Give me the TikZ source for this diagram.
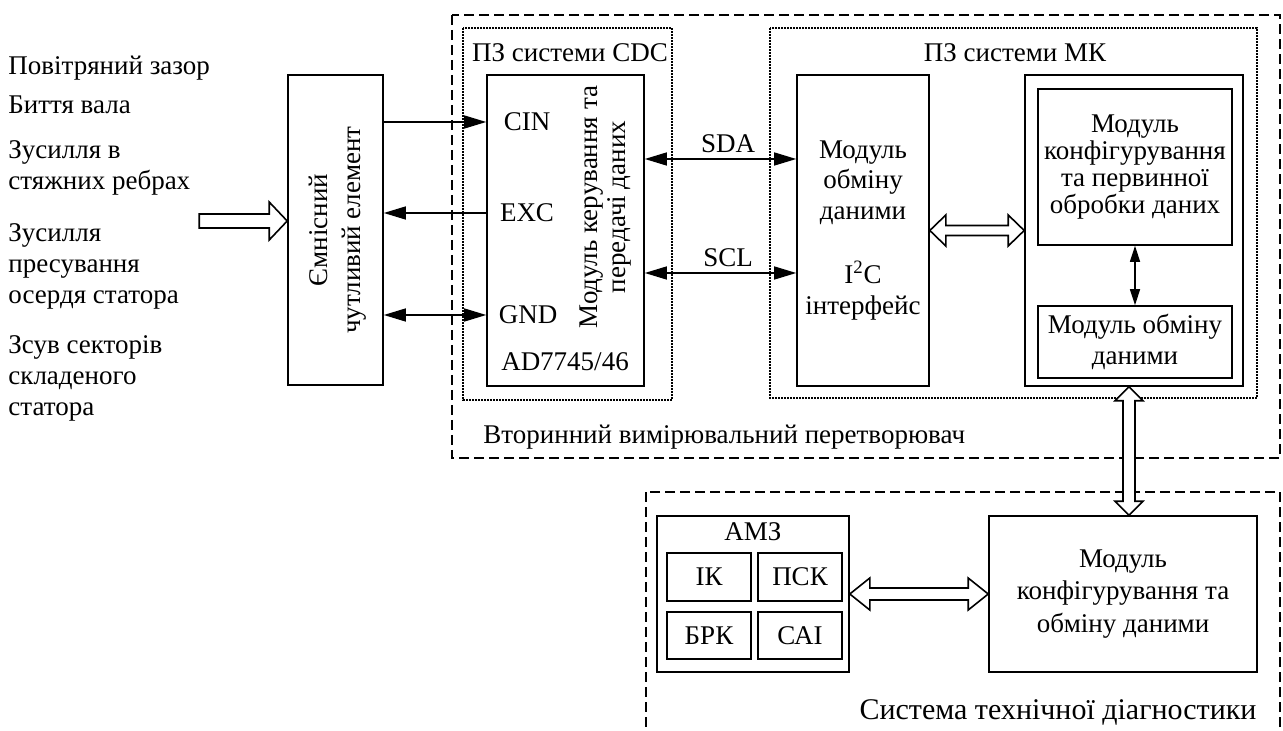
\documentclass[tikz,border=0pt]{standalone}
\usepackage{fontspec}
\setmainfont{Liberation Serif}
\usetikzlibrary{arrows.meta,calc}

\begin{document}
\begin{tikzpicture}[x=0.5pt,y=-0.5pt,
    >={Triangle[length=11pt,width=6.5pt]},
    blk/.style={draw, line width=0.8pt, inner sep=0pt},
    txt/.style={font=\fontsize{13.5}{15.5}\selectfont, inner sep=0pt, align=center},
    sig/.style={line width=0.7pt},
    hollow/.style={line width=0.8pt, fill=white},
    zone/.style={line width=1pt, dash pattern=on 5pt off 2.5pt},
    part/.style={line width=1.1pt, dash pattern=on 0.8pt off 0.7pt}]
  \useasboundingbox (0,0) rectangle (1283,731);

  % Draw the zones
  \draw[zone] (452,15) rectangle (1280,458);
  \begin{scope}
    \clip (0,0) rectangle (1283,731);
    \draw[zone] (646,492) rectangle (1280,780);
  \end{scope}
  \draw[part] (463,28) rectangle (672,400);
  \draw[part] (770,28) rectangle (1257,398);
  \node[txt, anchor=west] (vvp) at (483,437) {Вторинний вимірювальний перетворювач};
  \node[txt, font=\fontsize{15}{18}\selectfont] (std) at (1058,712) {Система технічної діагностики};

  % Draw the measured values
  \node[txt, anchor=west, align=left] (in1) at (8,68) {Повітряний зазор};
  \node[txt, anchor=west, align=left] (in2) at (8,105) {Биття вала};
  \node[txt, anchor=west, align=left] (in3) at (8,167.5) {Зусилля в\\стяжних ребрах};
  \node[txt, anchor=west, align=left] (in4) at (8,266.5) {Зусилля\\пресування\\осердя статора};
  \node[txt, anchor=west, align=left] (in5) at (8,378) {Зсув секторів\\складеного\\статора};

  % Draw the sensor
  \node[blk, minimum width=47.5pt, minimum height=155pt] (sens) at (335.5,230) {};
  \node[txt, rotate=90, font=\fontsize{13.5}{16.5}\selectfont] (senst) at ([xshift=1pt]sens.center) {Ємнісний\\чутливий елемент};
  \coordinate (sensin) at ([yshift=4.5pt]sens.west);
  \draw[hollow] (sensin) -- ++(-18,-19) -- ++(0,12) -- ++(-70,0) -- ++(0,14) -- ++(70,0) -- ++(0,12) -- cycle;

  % Draw the CDC part
  \node[txt] (cdct) at (570,53) {ПЗ системи CDC};
  \node[blk, minimum width=78.5pt, minimum height=155.5pt] (cdc) at (565.5,230.5) {};
  \node[txt] (cin) at (527,122) {CIN};
  \node[txt] (exc) at (527,213) {EXC};
  \node[txt] (gnd) at (528,315) {GND};
  \node[txt] (adc) at (565,362) {AD7745/46};
  \node[txt, rotate=90, font=\fontsize{13.5}{14}\selectfont] (cdcm) at (606,207) {Модуль керування та\\передачі даних};
  \draw[sig, ->] (sens.east |- cin) -- (cdc.west |- cin);
  \draw[sig, ->] (cdc.west |- exc) -- (sens.east |- exc);
  \draw[sig, <->] (sens.east |- gnd) -- (cdc.west |- gnd);

  % Draw the MK part
  \node[txt] (mkt) at (1015,53) {ПЗ системи МК};
  \node[blk, txt, minimum width=66pt, minimum height=155.5pt, font=\fontsize{13.5}{15.25}\selectfont] (mkio) at (863,230.5) {Модуль\\обміну\\даними\\[17pt]I\textsuperscript{2}C\\інтерфейс};
  \node[blk, minimum width=109pt, minimum height=155.5pt] (mkbig) at (1134,230.5) {};
  \node[blk, txt, minimum width=97pt, minimum height=78pt, font=\fontsize{13.5}{13.4}\selectfont] (proc) at (1135,167) {Модуль\\конфігурування\\та первинної\\обробки даних};
  \node[blk, txt, minimum width=97pt, minimum height=36pt] (mkio2) at (1135,342) {Модуль обміну\\даними};
  \draw[sig, {Triangle[length=8pt,width=5pt]}-{Triangle[length=8pt,width=5pt]}] (proc.south) -- (mkio2.north);
  \draw[sig, <->] ([yshift=35.75pt]cdc.east) -- ([yshift=35.75pt]mkio.west) node[txt, pos=0.55, above=3pt] {SDA};
  \draw[sig, <->] ([yshift=-21.25pt]cdc.east) -- ([yshift=-21.25pt]mkio.west) node[txt, pos=0.55, above=3pt] {SCL};
  \draw[hollow] (mkio.east) -- ++(16,-15.5) -- ++(0,10.5) -- ($(mkbig.west)+(-16,-5)$) -- ++(0,-10.5) -- (mkbig.west)
    -- ++(-16,15.5) -- ++(0,-10.5) -- ($(mkio.east)+(16,5)$) -- ++(0,10.5) -- cycle;

  % Draw the diagnostics part
  \node[blk, minimum width=96pt, minimum height=78pt] (amz) at (753,594) {};
  \node[txt] (amzt) at (753,532) {АМЗ};
  \node[blk, txt, minimum width=42pt, minimum height=24pt] (ik) at (709,577) {ІК};
  \node[blk, txt, minimum width=42pt, minimum height=24pt] (psk) at (800,577) {ПСК};
  \node[blk, txt, minimum width=42pt, minimum height=23.5pt] (brk) at (709,635.5) {БРК};
  \node[blk, txt, minimum width=42pt, minimum height=23.5pt] (sai) at (800,635.5) {САІ};
  \node[blk, txt, minimum width=134pt, minimum height=78pt, font=\fontsize{13.5}{16.25}\selectfont] (cfg) at (1123,594) {Модуль\\конфігурування та\\обміну даними};
  \draw[hollow] (amz.east) -- ++(20,-16) -- ++(0,10) -- ($(cfg.west)+(-20,-6)$) -- ++(0,-10) -- (cfg.west)
    -- ++(-20,16) -- ++(0,-10) -- ($(amz.east)+(20,6)$) -- ++(0,10) -- cycle;
  \coordinate (vtop) at ([xshift=-2.5pt]mkbig.south);
  \coordinate (vbot) at (vtop |- cfg.north);
  \draw[hollow] (vtop) -- ++(-14,14) -- ++(8,0) -- ($(vbot)+(-6,-14)$) -- ++(-8,0) -- (vbot)
    -- ++(14,-14) -- ++(-8,0) -- ($(vtop)+(6,14)$) -- ++(8,0) -- cycle;
\end{tikzpicture}
\end{document}
